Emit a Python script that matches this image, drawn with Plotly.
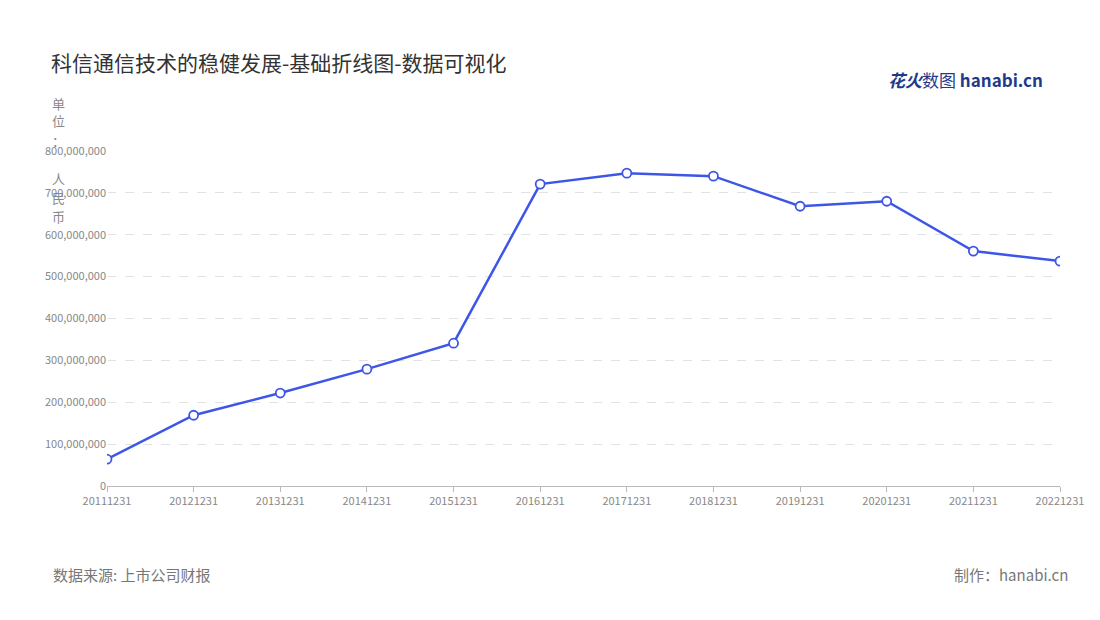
import plotly.graph_objects as go

dates = ["20111231", "20121231", "20131231", "20141231", "20151231", "20161231",
         "20171231", "20181231", "20191231", "20201231", "20211231", "20221231"]
values = [64e6, 169e6, 222e6, 279e6, 341e6, 721e6, 747e6, 740e6, 668e6, 680e6, 561e6, 537e6]
y_ticks = list(range(0, 800000001, 100000000))

FONT = "Noto Sans CJK SC"
L, B, PH, PW = 99, 142, 335, 953


def px(x):
    return (x - L) / PW


def py(y):
    return (620 - B - y) / PH


fig = go.Figure(go.Scatter(
    x=list(range(len(dates))), y=values, mode="lines+markers",
    line=dict(color="#3d56e8", width=2.5),
    marker=dict(size=9, color="white", line=dict(color="#3d56e8", width=1.8)),
))

fig.update_layout(
    width=1100, height=620, paper_bgcolor="white", plot_bgcolor="white",
    margin=dict(l=L, r=48, t=143, b=B),
    showlegend=False, font=dict(family=FONT, color="#888"),
    title=dict(text="科信通信技术的稳健发展-基础折线图-数据可视化", x=0.039, y=0.911,
               xanchor="left", yanchor="middle",
               font=dict(size=21, color="#333", family=FONT)),
    xaxis=dict(tickmode="array", tickvals=list(range(len(dates))), ticktext=dates,
               range=[0, 11], showgrid=False, showline=True, linecolor="#bbb",
               ticks="outside", tickcolor="#bbb", ticklen=5,
               tickfont=dict(size=11, color="#888")),
    yaxis=dict(range=[0, 800e6], tickvals=y_ticks, tickformat=",d",
               showgrid=True, gridcolor="#e2e2e2", griddash="dash",
               zeroline=False, tickfont=dict(size=11, color="#888")),
)

# vertical unit label, one character per row
for ch, yy in zip("单位：人民币", [95, 113, 132, 170, 189, 208]):
    fig.add_annotation(text=ch, xref="paper", yref="paper", x=px(50), y=py(yy),
                       xanchor="center", yanchor="middle", showarrow=False,
                       font=dict(size=13, color="#888"))

fig.add_annotation(text="数据来源: 上市公司财报", xref="paper", yref="paper",
                   x=px(43), y=py(566), xanchor="left", yanchor="middle", showarrow=False,
                   font=dict(size=15, color="#777"))
fig.add_annotation(text="制作：hanabi.cn", xref="paper", yref="paper",
                   x=px(1062), y=py(566), xanchor="right", yanchor="middle", showarrow=False,
                   font=dict(size=15, color="#777"))
fig.add_annotation(text="<b><i>花火</i></b>数图 <b>hanabi.cn</b>", xref="paper", yref="paper",
                   x=px(1037), y=py(72), xanchor="right", yanchor="middle", showarrow=False,
                   font=dict(size=17, color="#1f3a8a"))

fig.write_html("out.html")
